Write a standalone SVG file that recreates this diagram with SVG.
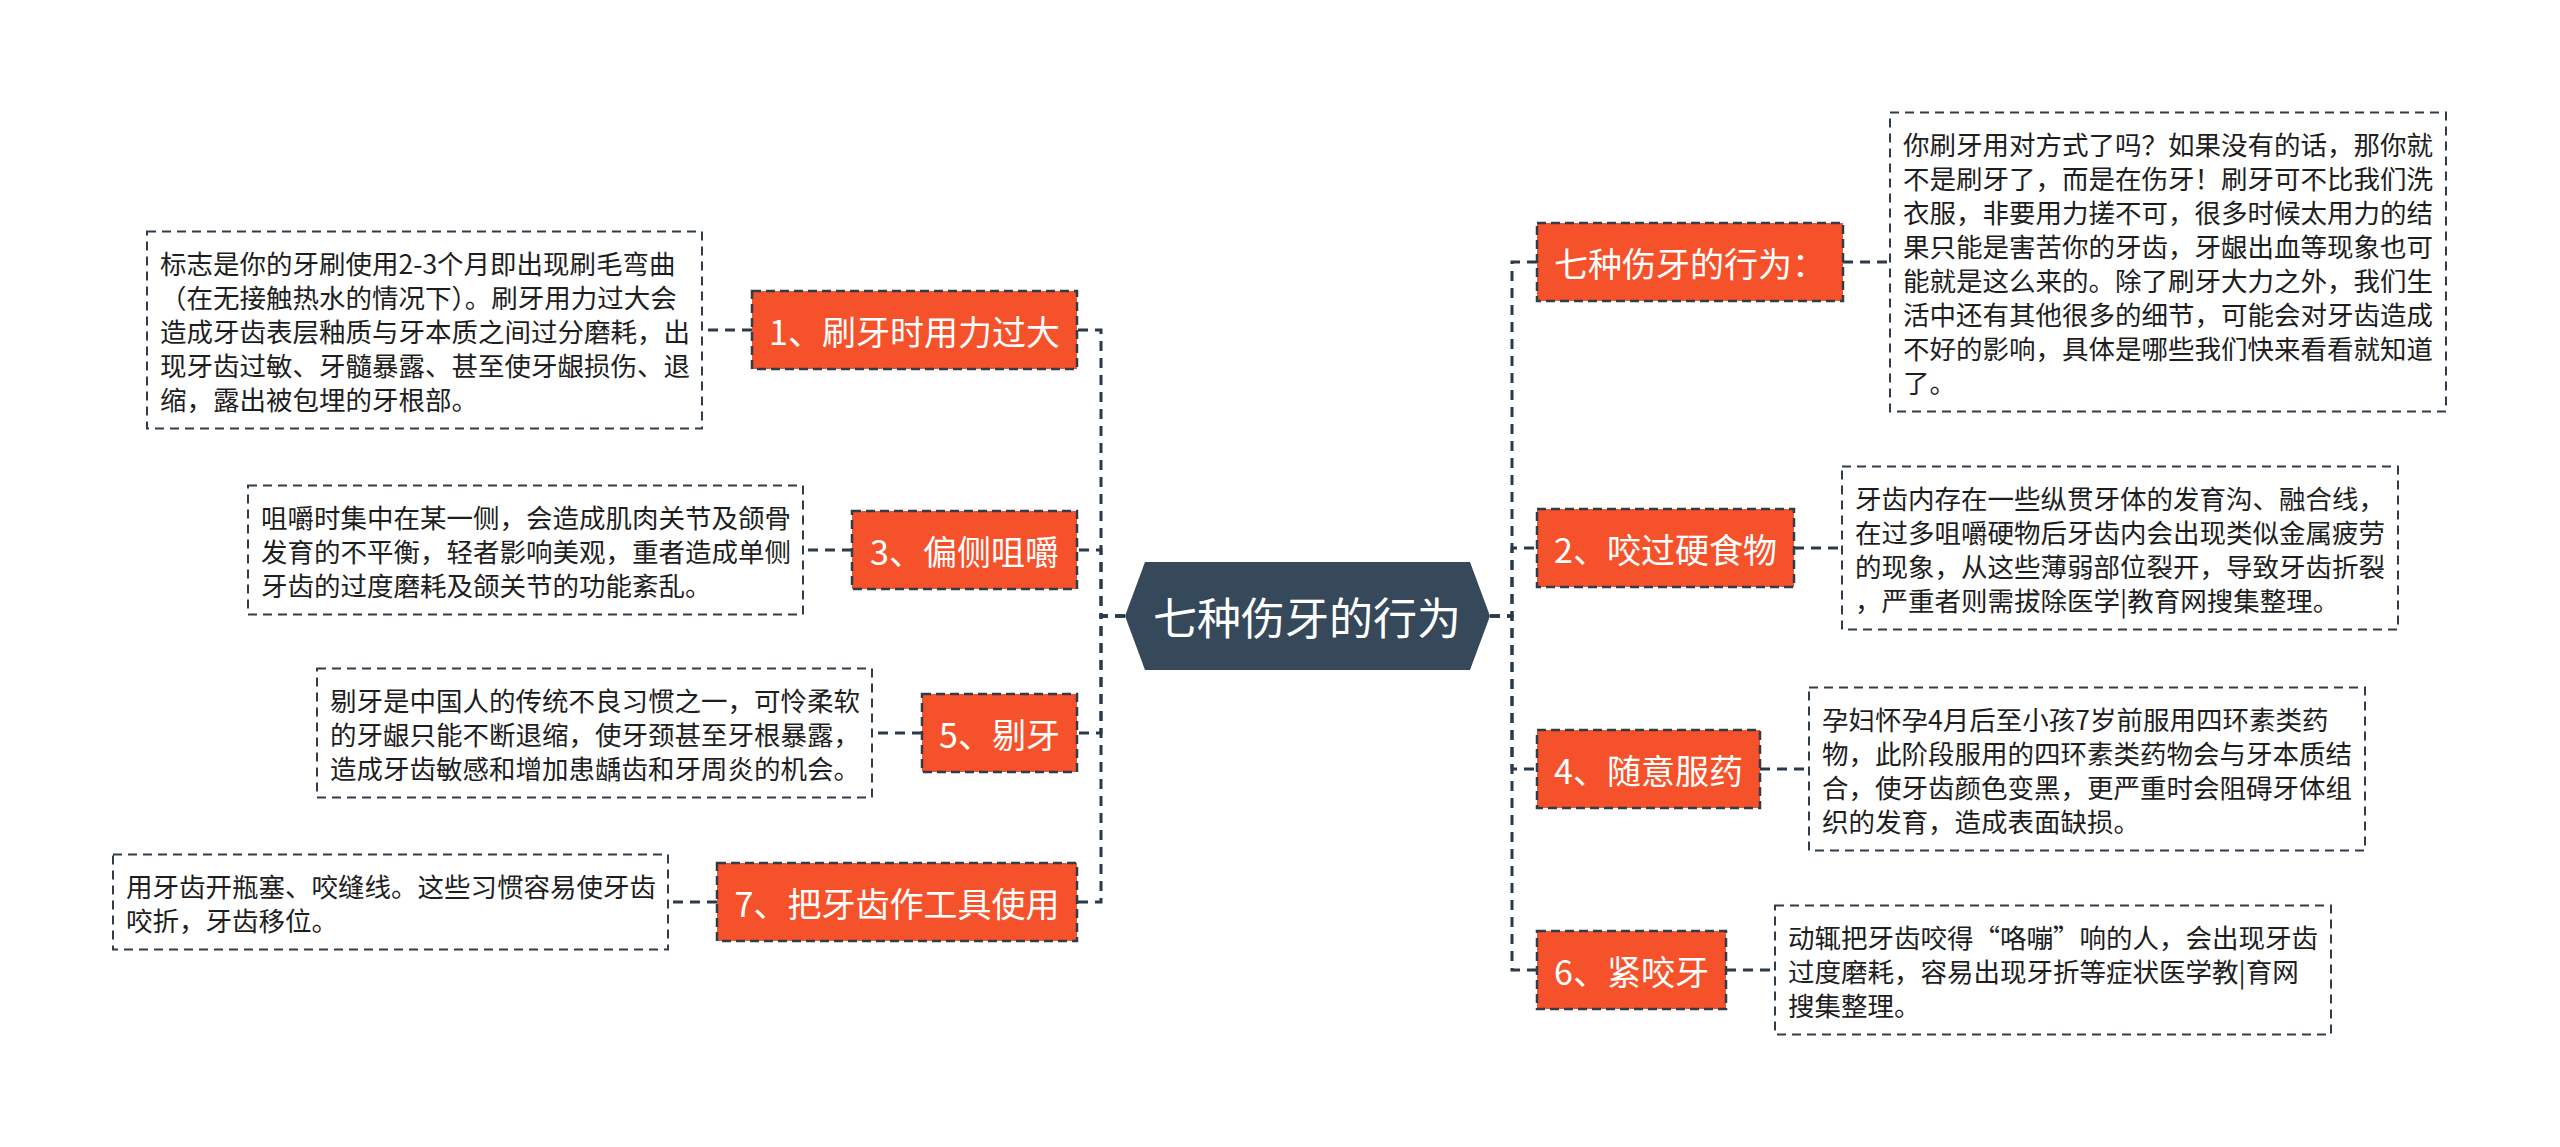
<svg xmlns="http://www.w3.org/2000/svg" width="2560" height="1147" viewBox="0 0 2560 1147">
<style>
text{font-family:"Noto Sans CJK SC","Noto Sans",sans-serif;}
.bg{fill:#ffffff;}
.conn{fill:none;stroke:#2b3a48;stroke-width:3;stroke-dasharray:10 7;}
.node rect{fill:#f5522c;stroke:#2f3d4a;stroke-width:2.5;stroke-dasharray:9 5;}
.node text{fill:#ffffff;font-size:34px;text-anchor:middle;dominant-baseline:central;}
.note rect{fill:#ffffff;stroke:#2f3d4a;stroke-width:2;stroke-dasharray:9 6;}
.note text{fill:#1e1e1e;font-size:26.5px;dominant-baseline:central;}
.root polygon{fill:#36495b;}
.root text{fill:#ffffff;font-size:44px;text-anchor:middle;dominant-baseline:central;}
</style>
<rect class="bg" x="0" y="0" width="2560" height="1147"/>

<g id="connectors">
  <path class="conn" d="M1125,616 H1101 V330 H1077"/>
  <path class="conn" d="M1125,616 H1101 V550 H1077"/>
  <path class="conn" d="M1125,616 H1101 V733 H1077"/>
  <path class="conn" d="M1125,616 H1101 V902 H1077"/>
  <path class="conn" d="M1490,616 H1512 V262 H1537"/>
  <path class="conn" d="M1490,616 H1512 V548 H1537"/>
  <path class="conn" d="M1490,616 H1512 V769 H1537"/>
  <path class="conn" d="M1490,616 H1512 V970 H1537"/>
  <path class="conn" d="M752,330 H702"/>
  <path class="conn" d="M852,550 H803"/>
  <path class="conn" d="M922,733 H872"/>
  <path class="conn" d="M717,902 H668"/>
  <path class="conn" d="M1843,262 H1890"/>
  <path class="conn" d="M1794,548 H1842"/>
  <path class="conn" d="M1760,769 H1809"/>
  <path class="conn" d="M1726,970 H1775"/>
</g>

<g id="root" class="root">
  <polygon points="1125,616 1145,562 1470,562 1490,616 1470,670 1145,670"/>
  <text x="1307" y="616">七种伤牙的行为</text>
</g>

<g id="n1" class="node">
  <rect x="752" y="291" width="325" height="78"/>
  <text x="914.5" y="330">1、刷牙时用力过大</text>
</g>
<g id="n3" class="node">
  <rect x="852" y="511" width="225" height="78"/>
  <text x="964.5" y="550">3、偏侧咀嚼</text>
</g>
<g id="n5" class="node">
  <rect x="922" y="694" width="155" height="78"/>
  <text x="999.5" y="733">5、剔牙</text>
</g>
<g id="n7" class="node">
  <rect x="717" y="863" width="360" height="78"/>
  <text x="897" y="902">7、把牙齿作工具使用</text>
</g>
<g id="n0" class="node">
  <rect x="1537" y="223" width="306" height="78"/>
  <text x="1690" y="262">七种伤牙的行为：</text>
</g>
<g id="n2" class="node">
  <rect x="1537" y="509" width="257" height="78"/>
  <text x="1665.5" y="548">2、咬过硬食物</text>
</g>
<g id="n4" class="node">
  <rect x="1537" y="730" width="223" height="78"/>
  <text x="1648.5" y="769">4、随意服药</text>
</g>
<g id="n6" class="node">
  <rect x="1537" y="931" width="189" height="78"/>
  <text x="1631.5" y="970">6、紧咬牙</text>
</g>

<g id="t1" class="note">
  <rect x="147" y="231.5" width="555" height="197"/>
  <text x="160" y="262">标志是你的牙刷使用2-3个月即出现刷毛弯曲</text>
  <text x="160" y="296">（在无接触热水的情况下）。刷牙用力过大会</text>
  <text x="160" y="330">造成牙齿表层釉质与牙本质之间过分磨耗，出</text>
  <text x="160" y="364">现牙齿过敏、牙髓暴露、甚至使牙龈损伤、退</text>
  <text x="160" y="398">缩，露出被包埋的牙根部。</text>
</g>
<g id="t3" class="note">
  <rect x="248" y="485.5" width="555" height="129"/>
  <text x="261" y="516">咀嚼时集中在某一侧，会造成肌肉关节及颌骨</text>
  <text x="261" y="550">发育的不平衡，轻者影响美观，重者造成单侧</text>
  <text x="261" y="584">牙齿的过度磨耗及颌关节的功能紊乱。</text>
</g>
<g id="t5" class="note">
  <rect x="317" y="668.5" width="555" height="129"/>
  <text x="330" y="699">剔牙是中国人的传统不良习惯之一，可怜柔软</text>
  <text x="330" y="733">的牙龈只能不断退缩，使牙颈甚至牙根暴露，</text>
  <text x="330" y="767">造成牙齿敏感和增加患龋齿和牙周炎的机会。</text>
</g>
<g id="t7" class="note">
  <rect x="113" y="854.5" width="555" height="95"/>
  <text x="126" y="885">用牙齿开瓶塞、咬缝线。这些习惯容易使牙齿</text>
  <text x="126" y="919">咬折，牙齿移位。</text>
</g>
<g id="t0" class="note">
  <rect x="1890" y="112.5" width="556" height="299"/>
  <text x="1903" y="143">你刷牙用对方式了吗？如果没有的话，那你就</text>
  <text x="1903" y="177">不是刷牙了，而是在伤牙！刷牙可不比我们洗</text>
  <text x="1903" y="211">衣服，非要用力搓不可，很多时候太用力的结</text>
  <text x="1903" y="245">果只能是害苦你的牙齿，牙龈出血等现象也可</text>
  <text x="1903" y="279">能就是这么来的。除了刷牙大力之外，我们生</text>
  <text x="1903" y="313">活中还有其他很多的细节，可能会对牙齿造成</text>
  <text x="1903" y="347">不好的影响，具体是哪些我们快来看看就知道</text>
  <text x="1903" y="381">了。</text>
</g>
<g id="t2" class="note">
  <rect x="1842" y="466.5" width="556" height="163"/>
  <text x="1855" y="497">牙齿内存在一些纵贯牙体的发育沟、融合线，</text>
  <text x="1855" y="531">在过多咀嚼硬物后牙齿内会出现类似金属疲劳</text>
  <text x="1855" y="565">的现象，从这些薄弱部位裂开，导致牙齿折裂</text>
  <text x="1855" y="599">，严重者则需拔除医学|教育网搜集整理。</text>
</g>
<g id="t4" class="note">
  <rect x="1809" y="687.5" width="556" height="163"/>
  <text x="1822" y="718">孕妇怀孕4月后至小孩7岁前服用四环素类药</text>
  <text x="1822" y="752">物，此阶段服用的四环素类药物会与牙本质结</text>
  <text x="1822" y="786">合，使牙齿颜色变黑，更严重时会阻碍牙体组</text>
  <text x="1822" y="820">织的发育，造成表面缺损。</text>
</g>
<g id="t6" class="note">
  <rect x="1775" y="905.5" width="556" height="129"/>
  <text x="1788" y="936">动辄把牙齿咬得“咯嘣”响的人，会出现牙齿</text>
  <text x="1788" y="970">过度磨耗，容易出现牙折等症状医学教|育网</text>
  <text x="1788" y="1004">搜集整理。</text>
</g>
</svg>
